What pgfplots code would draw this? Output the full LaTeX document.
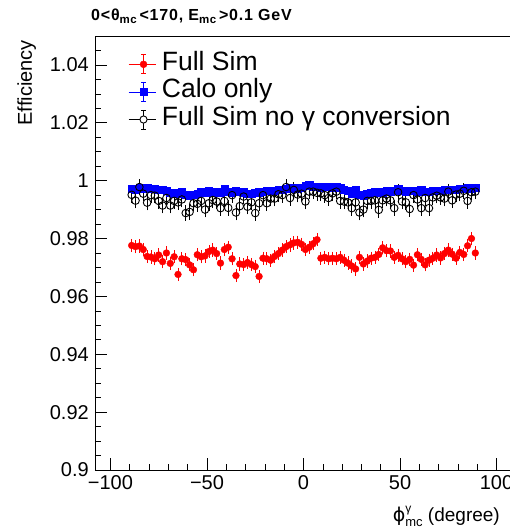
\documentclass[border=0pt]{standalone}
\usepackage{fontspec}
\setmainfont{Liberation Sans}
\newfontfamily\dejavu{DejaVu Sans}
\usepackage{pgfplots}
\pgfplotsset{compat=1.18}
\usepackage{pgfplotstable}

% efficiency vs phi, 2 degree bins
\pgfplotstableread[row sep=\\]{
x y \\
-89 0.9776 \\ -87 0.9772 \\ -85 0.9774 \\ -83 0.9762 \\ -81 0.9738 \\ -79 0.9736 \\ -77 0.9730 \\ -75 0.9743 \\ -73 0.9720 \\ -71 0.9750 \\
-69 0.9714 \\ -67 0.9737 \\ -65 0.9676 \\ -63 0.9730 \\ -61 0.9727 \\ -59 0.9709 \\ -57 0.9692 \\ -55 0.9744 \\ -53 0.9737 \\ -51 0.9740 \\
-49 0.9755 \\ -47 0.9760 \\ -45 0.9748 \\ -43 0.9715 \\ -41 0.9762 \\ -39 0.9770 \\ -37 0.9730 \\ -35 0.9672 \\ -33 0.9712 \\ -31 0.9710 \\
-29 0.9717 \\ -27 0.9710 \\ -25 0.9703 \\ -23 0.9669 \\ -21 0.9732 \\ -19 0.9730 \\ -17 0.9725 \\ -15 0.9738 \\ -13 0.9748 \\ -11 0.9760 \\
-9 0.9772 \\ -7 0.9778 \\ -5 0.9785 \\ -3 0.9787 \\ -1 0.9780 \\ 1 0.9762 \\ 3 0.9770 \\ 5 0.9782 \\ 7 0.9796 \\ 9 0.9732 \\
11 0.9735 \\ 13 0.9730 \\ 15 0.9732 \\ 17 0.9730 \\ 19 0.9735 \\ 21 0.9725 \\ 23 0.9715 \\ 25 0.9705 \\ 27 0.9695 \\ 29 0.9735 \\
31 0.9712 \\ 33 0.9722 \\ 35 0.9732 \\ 37 0.9735 \\ 39 0.9745 \\ 41 0.9768 \\ 43 0.9758 \\ 45 0.9757 \\ 47 0.9735 \\ 49 0.9742 \\
51 0.9730 \\ 53 0.9720 \\ 55 0.9728 \\ 57 0.9708 \\ 59 0.9744 \\ 61 0.9728 \\ 63 0.9709 \\ 65 0.9725 \\ 67 0.9732 \\ 69 0.9743 \\
71 0.9733 \\ 73 0.9748 \\ 75 0.9760 \\ 77 0.9746 \\ 79 0.9732 \\ 81 0.9752 \\ 83 0.9745 \\ 85 0.9775 \\ 87 0.9800 \\ 89 0.9750 \\
}\fullsim

\pgfplotstableread[row sep=\\]{
x y \\
-89 0.9972 \\ -87 0.9970 \\ -85 0.9975 \\ -83 0.9972 \\ -81 0.9975 \\ -79 0.9972 \\ -77 0.9973 \\ -75 0.9968 \\ -73 0.9970 \\ -71 0.9966 \\
-69 0.9958 \\ -67 0.9955 \\ -65 0.9957 \\ -63 0.9960 \\ -61 0.9952 \\ -59 0.9950 \\ -57 0.9952 \\ -55 0.9955 \\ -53 0.9962 \\ -51 0.9958 \\
-49 0.9965 \\ -47 0.9960 \\ -45 0.9962 \\ -43 0.9960 \\ -41 0.9972 \\ -39 0.9962 \\ -37 0.9960 \\ -35 0.9965 \\ -33 0.9962 \\ -31 0.9960 \\
-29 0.9955 \\ -27 0.9956 \\ -25 0.9958 \\ -23 0.9960 \\ -21 0.9962 \\ -19 0.9964 \\ -17 0.9966 \\ -15 0.9966 \\ -13 0.9968 \\ -11 0.9970 \\
-9 0.9972 \\ -7 0.9974 \\ -5 0.9972 \\ -3 0.9974 \\ -1 0.9976 \\ 1 0.9982 \\ 3 0.9984 \\ 5 0.9980 \\ 7 0.9978 \\ 9 0.9976 \\
11 0.9978 \\ 13 0.9978 \\ 15 0.9975 \\ 17 0.9978 \\ 19 0.9976 \\ 21 0.9968 \\ 23 0.9965 \\ 25 0.9955 \\ 27 0.9970 \\ 29 0.9952 \\
31 0.9950 \\ 33 0.9955 \\ 35 0.9958 \\ 37 0.9960 \\ 39 0.9962 \\ 41 0.9960 \\ 43 0.9965 \\ 45 0.9963 \\ 47 0.9965 \\ 49 0.9973 \\
51 0.9965 \\ 53 0.9962 \\ 55 0.9965 \\ 57 0.9966 \\ 59 0.9963 \\ 61 0.9968 \\ 63 0.9962 \\ 65 0.9963 \\ 67 0.9965 \\ 69 0.9965 \\
71 0.9966 \\ 73 0.9968 \\ 75 0.9968 \\ 77 0.9970 \\ 79 0.9970 \\ 81 0.9972 \\ 83 0.9972 \\ 85 0.9974 \\ 87 0.9974 \\ 89 0.9976 \\
}\calo

\pgfplotstableread[row sep=\\]{
x y \\
-89 0.9951 \\ -87 0.9931 \\ -85 0.9978 \\ -83 0.9955 \\ -81 0.9924 \\ -79 0.9950 \\ -77 0.9948 \\ -75 0.9930 \\ -73 0.9914 \\ -71 0.9940 \\
-69 0.9914 \\ -67 0.9930 \\ -65 0.9925 \\ -63 0.9935 \\ -61 0.9888 \\ -59 0.9892 \\ -57 0.9922 \\ -55 0.9920 \\ -53 0.9930 \\ -51 0.9900 \\
-49 0.9922 \\ -47 0.9933 \\ -45 0.9928 \\ -43 0.9905 \\ -41 0.9930 \\ -39 0.9906 \\ -37 0.9950 \\ -35 0.9890 \\ -33 0.9912 \\ -31 0.9945 \\
-29 0.9910 \\ -27 0.9925 \\ -25 0.9888 \\ -23 0.9922 \\ -21 0.9950 \\ -19 0.9922 \\ -17 0.9938 \\ -15 0.9938 \\ -13 0.9953 \\ -11 0.9950 \\
-9 0.9978 \\ -7 0.9940 \\ -5 0.9968 \\ -3 0.9952 \\ -1 0.9955 \\ 1 0.9928 \\ 3 0.9962 \\ 5 0.9962 \\ 7 0.9958 \\ 9 0.9956 \\
11 0.9950 \\ 13 0.9940 \\ 15 0.9956 \\ 17 0.9962 \\ 19 0.9930 \\ 21 0.9928 \\ 23 0.9925 \\ 25 0.9905 \\ 27 0.9925 \\ 29 0.9890 \\
31 0.9900 \\ 33 0.9930 \\ 35 0.9930 \\ 37 0.9932 \\ 39 0.9899 \\ 41 0.9932 \\ 43 0.9938 \\ 45 0.9932 \\ 47 0.9905 \\ 49 0.9960 \\
51 0.9928 \\ 53 0.9925 \\ 55 0.9902 \\ 57 0.9950 \\ 59 0.9935 \\ 61 0.9905 \\ 63 0.9940 \\ 65 0.9905 \\ 67 0.9942 \\ 69 0.9948 \\
71 0.9942 \\ 73 0.9938 \\ 75 0.9962 \\ 77 0.9932 \\ 79 0.9952 \\ 81 0.9955 \\ 83 0.9965 \\ 85 0.9930 \\ 87 0.9960 \\ 89 0.9962 \\
}\noconv

\pgfplotsset{
  rootleg/.style 2 args={legend image code/.code={
    \draw[#1, line width=0.8pt] (0pt,0pt) -- (27pt,0pt);
    \draw[#1, line width=0.8pt] (15pt,-9.5pt) -- (15pt,9.5pt);
    \draw[#1, line width=0.8pt] (12.5pt,-9.5pt) -- (17.5pt,-9.5pt) (12.5pt,9.5pt) -- (17.5pt,9.5pt);
    #2
  }},
}
\newcommand{\sub}[1]{\raisebox{-3.5pt}{\fontsize{11.5}{11.5}\selectfont #1}}

\begin{document}
\begin{tikzpicture}
\begin{axis}[
    at={(0pt,0pt)}, anchor=south west,
    scale only axis,
    width=417pt, height=434pt,
    xmin=-108, xmax=108,
    ymin=0.9, ymax=1.05,
    axis line style={line width=0.8pt},
    tick align=inside,
    tick pos=left,
    major tick length=12pt,
    minor tick length=6pt,
    every tick/.style={black, line width=0.6pt},
    xtick={-100,-50,0,50,100},
    xticklabels={−100,−50,0,50,100},
    minor xtick={-100,-90,...,100},
    ytick={0.9,0.92,0.94,0.96,0.98,1,1.02,1.04},
    yticklabels={0.9,0.92,0.94,0.96,0.98,1,1.02,1.04},
    minor ytick={0.905,0.91,0.915,0.925,0.93,0.935,0.945,0.95,0.955,0.965,0.97,0.975,0.985,0.99,0.995,1.005,1.01,1.015,1.025,1.03,1.035,1.045},
    ticklabel style={font=\fontsize{20}{24}\selectfont, inner sep=0pt},
    xticklabel shift=5pt,
    yticklabel shift=6pt,
    legend style={at={(axis description cs:0.079,0.967)}, anchor=north west,
        draw=none, fill=none, inner sep=0pt,
        font=\fontsize{26.5}{28}\selectfont,
        nodes={inner sep=0pt, text height=19.5pt, text depth=8.1pt},
        column sep=6pt},
    legend cell align=left,
]
\addplot[only marks, mark=*, mark size=3.4pt, red,
    rootleg={red}{\fill[red] (15pt,0pt) circle (3.5pt);},
    error bars/.cd, y dir=both, y fixed=0.0016,
    error bar style={red, line width=0.8pt},
    error mark options={red, mark size=2pt, line width=0.8pt}]
    table[x=x, y=y] {\fullsim};
\addlegendentry{Full Sim}

\addplot[only marks, mark=square*, mark size=3.6pt, blue,
    rootleg={blue}{\fill[blue] (11.5pt,-3.5pt) rectangle (18.5pt,3.5pt);},
    error bars/.cd, y dir=both, y fixed=0.0005,
    error bar style={blue, line width=0.8pt},
    error mark options={blue, mark size=2pt, line width=0.8pt}]
    table[x=x, y=y] {\calo};
\addlegendentry{Calo only}

\addplot[only marks, mark=o, mark size=3.8pt, black, mark options={line width=0.9pt},
    rootleg={black}{\draw[black, fill=white, line width=0.9pt] (15pt,0pt) circle (3.6pt);},
    error bars/.cd, y dir=both, y fixed=0.002,
    error bar style={black, line width=0.8pt},
    error mark options={black, mark size=2pt, line width=0.8pt}]
    table[x=x, y=y] {\noconv};
\addlegendentry{Full Sim no γ conversion}
\end{axis}

\node[anchor=base west, inner sep=0pt,
      font=\bfseries\fontsize{16}{18}\selectfont\addfontfeature{LetterSpace=5}]
    at (-4pt,449.5pt) {0<θ\sub{mc}\,<170, E\sub{mc}\,>0.1 GeV};
\node[rotate=90, anchor=base east, font=\fontsize{20}{24}\selectfont, inner sep=0pt]
    at (-63pt,430pt) {Efficiency};
\node[anchor=base east, font=\fontsize{19}{22}\selectfont, inner sep=0pt]
    at (405pt,-51pt) {{\dejavu ϕ}\rlap{\raisebox{9pt}{\fontsize{12}{12}\selectfont γ}}\raisebox{-5pt}{\fontsize{13}{13}\selectfont mc} (degree)};

\pgfresetboundingbox
\useasboundingbox (-95pt,-60pt) rectangle (415pt,470pt);
\end{tikzpicture}
\end{document}
